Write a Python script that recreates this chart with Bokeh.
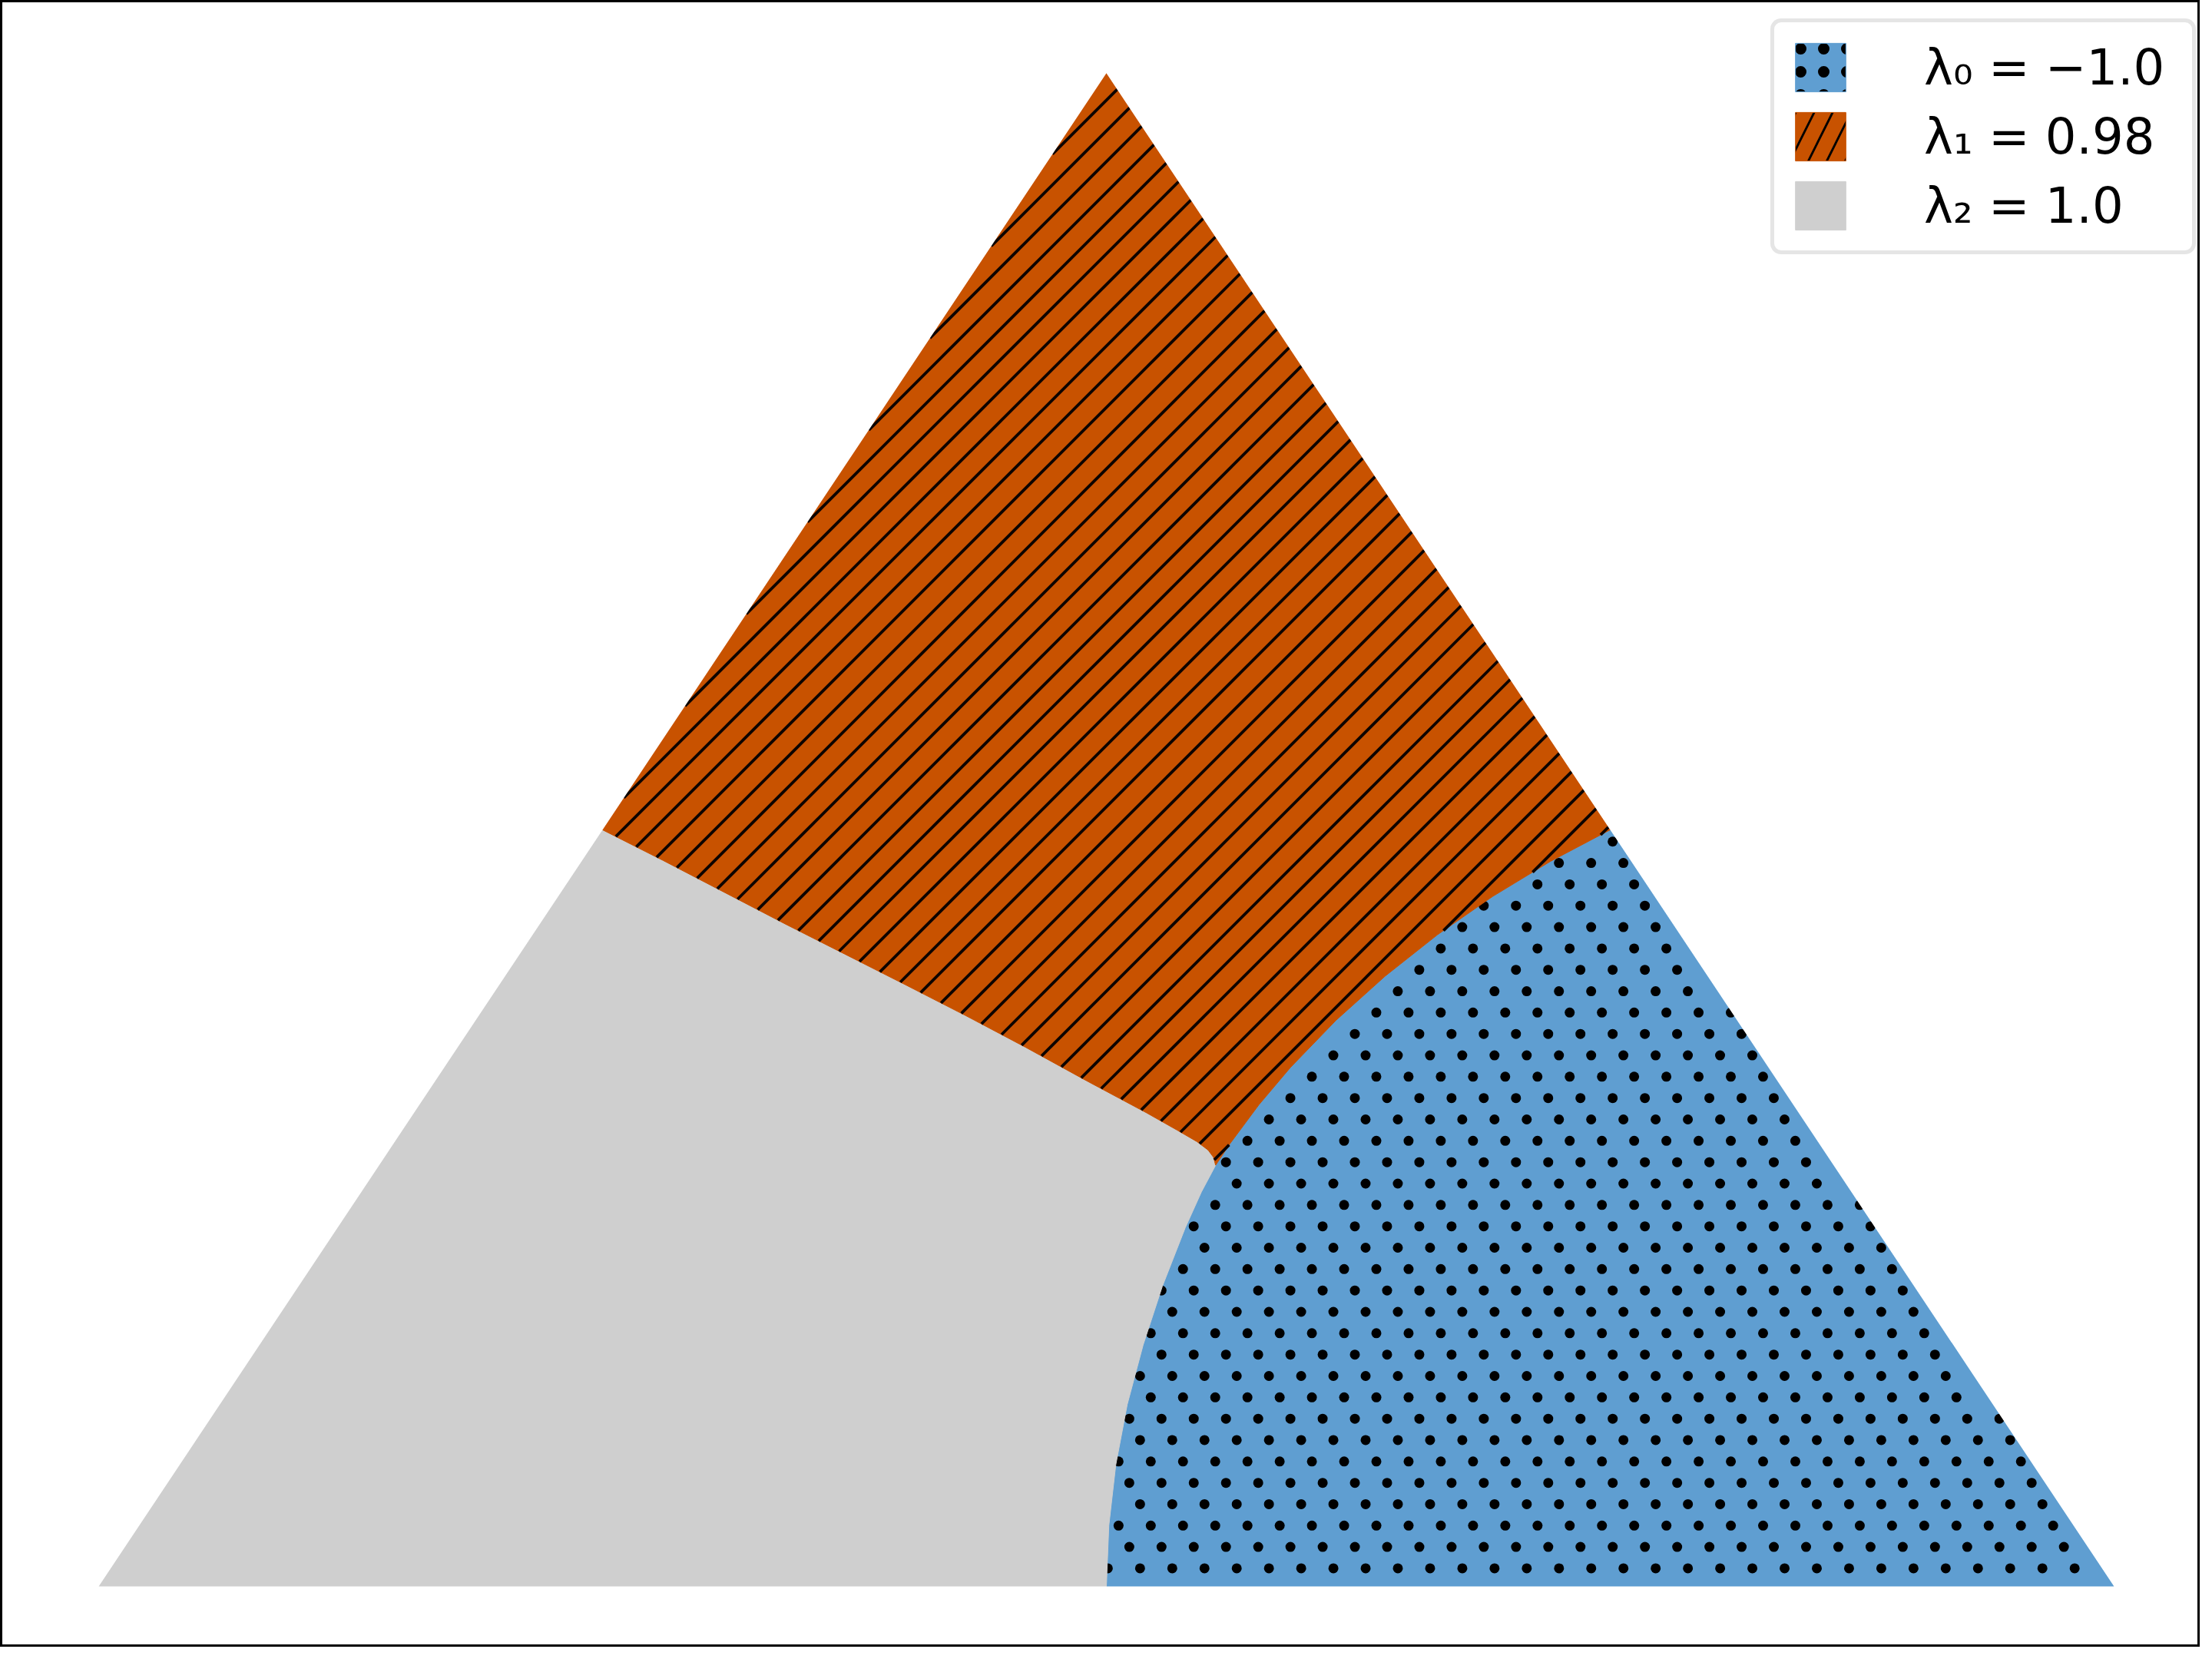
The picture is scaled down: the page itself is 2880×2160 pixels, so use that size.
import numpy as np
from bokeh.plotting import figure
from bokeh.models import Range1d, Legend, LegendItem
from bokeh.embed import file_html
from bokeh.resources import INLINE

# ---- data (simplex coordinates: corners (0,0), (1,0), (0.5, sqrt(3)/2)) ----
top_y = float(np.sqrt(3) / 2)
corner_x = [0.0, 1.0, 0.5]
corner_y = [0.0, 0.0, top_y]

labels = ["λ₀ = −1.0", "λ₁ = 0.98", "λ₂ = 1.0"]
colors = ["#5F9ED1", "#C85200", "#CFCFCF"]

# boundary of the λ0 (blue) region: bottom midpoint -> right-edge midpoint
arc_x = [0.5, 0.50122, 0.50467, 0.51034, 0.51822, 0.52781, 0.53911, 0.54717,
         0.55419, 0.56127, 0.57563, 0.59128, 0.61392, 0.63831, 0.66423,
         0.69155, 0.72018, 0.75]
arc_y = [0.0, 0.03488, 0.06961, 0.10408, 0.13815, 0.17187, 0.20520, 0.22578,
         0.24104, 0.25330, 0.27559, 0.29695, 0.32397, 0.34927, 0.37291,
         0.39479, 0.41485, 0.43301]
junction = 8  # index of the triple point in arc_x / arc_y

# boundary λ2 (grey) / λ1 (orange): left-edge midpoint -> triple point
b21_x = [0.25, 0.28, 0.31, 0.34, 0.37, 0.40, 0.43, 0.46, 0.49, 0.52, 0.535,
         0.545, 0.5505, 0.5532, 0.55419]
b21_y = [0.4330, 0.4155, 0.3975, 0.3795, 0.3620, 0.3445, 0.3268, 0.3085,
         0.2895, 0.2710, 0.2612, 0.2545, 0.2497, 0.2455, 0.24104]

# regions
gray_x = [0.0] + arc_x[:junction + 1] + b21_x[::-1][1:]
gray_y = [0.0] + arc_y[:junction + 1] + b21_y[::-1][1:]
orange_x = b21_x + arc_x[junction + 1:] + [0.5]
orange_y = b21_y + arc_y[junction + 1:] + [top_y]
blue_x = [1.0] + arc_x[::-1]
blue_y = [0.0] + arc_y[::-1]

# ---- view ----
W, H = 2864, 2144
x_start, x_end = -0.04878, 1.04268
y_start, y_end = -0.03473, 0.90769
sx = W / (x_end - x_start)
sy = H / (y_end - y_start)


def to_screen(x, y):
    return (np.asarray(x, float) - x_start) * sx, (y_end - np.asarray(y, float)) * sy


def to_data(X, Y):
    return np.asarray(X) / sx + x_start, y_end - np.asarray(Y) / sy


def hatch_segments(px, py, period=40.0, phase=10.0):
    """45-degree '/' hatch lines (screen space) clipped to a polygon."""
    X, Y = to_screen(px, py)
    X = np.append(X, X[0])
    Y = np.append(Y, Y[0])
    s = X + Y
    c0 = np.floor((s.min() - phase) / period) * period + phase
    out = ([], [], [], [])
    for c in np.arange(c0, s.max() + period, period):
        f = s - c
        hits = []
        for i in range(len(f) - 1):
            a, b = f[i], f[i + 1]
            if (a > 0) != (b > 0):
                t = a / (a - b)
                xi = X[i] + t * (X[i + 1] - X[i])
                yi = Y[i] + t * (Y[i + 1] - Y[i])
                hits.append((xi - yi, xi, yi))
        hits.sort()
        for k in range(0, len(hits) - 1, 2):
            out[0].append(hits[k][1]); out[1].append(hits[k][2])
            out[2].append(hits[k + 1][1]); out[3].append(hits[k + 1][2])
    x0, y0 = to_data(out[0], out[1])
    x1, y1 = to_data(out[2], out[3])
    return x0, y0, x1, y1


def inside(PX, PY, X, Y):
    res = np.zeros(len(PX), bool)
    j = len(X) - 1
    for i in range(len(X)):
        cond = ((Y[i] > PY) != (Y[j] > PY)) & \
               (PX < (X[j] - X[i]) * (PY - Y[i]) / (Y[j] - Y[i] + 1e-12) + X[i])
        res ^= cond
        j = i
    return res


def dot_lattice(px, py, a=41.96, bx=13.99, by=27.83, ox=1567.7, oy=1624.0):
    X, Y = to_screen(px, py)
    pts_x, pts_y = [], []
    for j in range(int(np.floor((Y.min() - oy) / by)) - 1, int(np.ceil((Y.max() - oy) / by)) + 2):
        yy = oy + by * j
        xo = ox + bx * j
        i0 = int(np.floor((X.min() - xo) / a)) - 1
        i1 = int(np.ceil((X.max() - xo) / a)) + 1
        for i in range(i0, i1 + 1):
            pts_x.append(xo + a * i)
            pts_y.append(yy)
    PX, PY = np.array(pts_x), np.array(pts_y)
    keep = inside(PX, PY, X, Y)
    return to_data(PX[keep], PY[keep])


# ---- figure ----
p = figure(width=W, height=H, output_backend="svg", toolbar_location=None,
           x_range=Range1d(x_start, x_end), y_range=Range1d(y_start, y_end),
           x_axis_location=None, y_axis_location=None, min_border=0,
           background_fill_color="white", border_fill_color="white")
p.xgrid.grid_line_color = None
p.ygrid.grid_line_color = None
p.outline_line_color = "black"
p.outline_line_width = 5

# λ0 region with dot hatch
p.patch(blue_x, blue_y, fill_color=colors[0], line_color=colors[0], line_width=1)
dx, dy = dot_lattice(blue_x, blue_y)
p.scatter(dx, dy, marker="circle", size=13, fill_color="black", line_color=None)
# λ2 region
p.patch(gray_x, gray_y, fill_color=colors[2], line_color=colors[2], line_width=1)
# λ1 region with '/' hatch
p.patch(orange_x, orange_y, fill_color=colors[1], line_color=colors[1], line_width=1)
hx0, hy0, hx1, hy1 = hatch_segments(orange_x, orange_y)
p.segment(hx0, hy0, hx1, hy1, line_color="#0d0400", line_width=3.8)

# clip the hatch to the simplex: white band just outside the triangle
cx, cy = np.mean(corner_x), np.mean(corner_y)
outer_x = list(cx + 1.03 * (np.array(corner_x) - cx))
outer_y = list(cy + 1.03 * (np.array(corner_y) - cy))
p.multi_polygons(xs=[[[outer_x, corner_x[::-1]]]], ys=[[[outer_y, corner_y[::-1]]]],
                 fill_color="white", line_color=None)

# legend swatches (hidden renderers carrying the hatch styles)
r_leg_blue = p.patch(blue_x, blue_y, fill_color=colors[0], line_color=colors[0],
                     hatch_pattern=".", hatch_scale=30, hatch_weight=5,
                     hatch_color="black", visible=False)
r_leg_orange = p.patch(orange_x, orange_y, fill_color=colors[1], line_color=colors[1],
                       hatch_pattern="/", hatch_scale=48, hatch_weight=2.8,
                       hatch_color="black", visible=False)
r_leg_gray = p.patch(gray_x, gray_y, fill_color=colors[2], line_color=colors[2],
                     visible=False)

legend = Legend(items=[LegendItem(label=labels[0], renderers=[r_leg_blue]),
                       LegendItem(label=labels[1], renderers=[r_leg_orange]),
                       LegendItem(label=labels[2], renderers=[r_leg_gray])],
                location=(2305, 1813))
legend.click_policy = "none"
legend.inactive_fill_alpha = 0.0
legend.label_text_font = "DejaVu Sans"
legend.label_text_font_size = "64px"
legend.label_text_color = "black"
legend.glyph_width = 82
legend.glyph_height = 79
legend.label_standoff = 94
legend.label_width = 330
legend.spacing = 11
legend.padding = 19
legend.margin = 0
legend.border_line_color = "#cccccc"
legend.border_line_width = 5
legend.background_fill_color = "white"
legend.background_fill_alpha = 1.0
try:
    legend.border_radius = 14
except Exception:
    pass
p.add_layout(legend)

open("out.html", "w").write(file_html(p, INLINE))
